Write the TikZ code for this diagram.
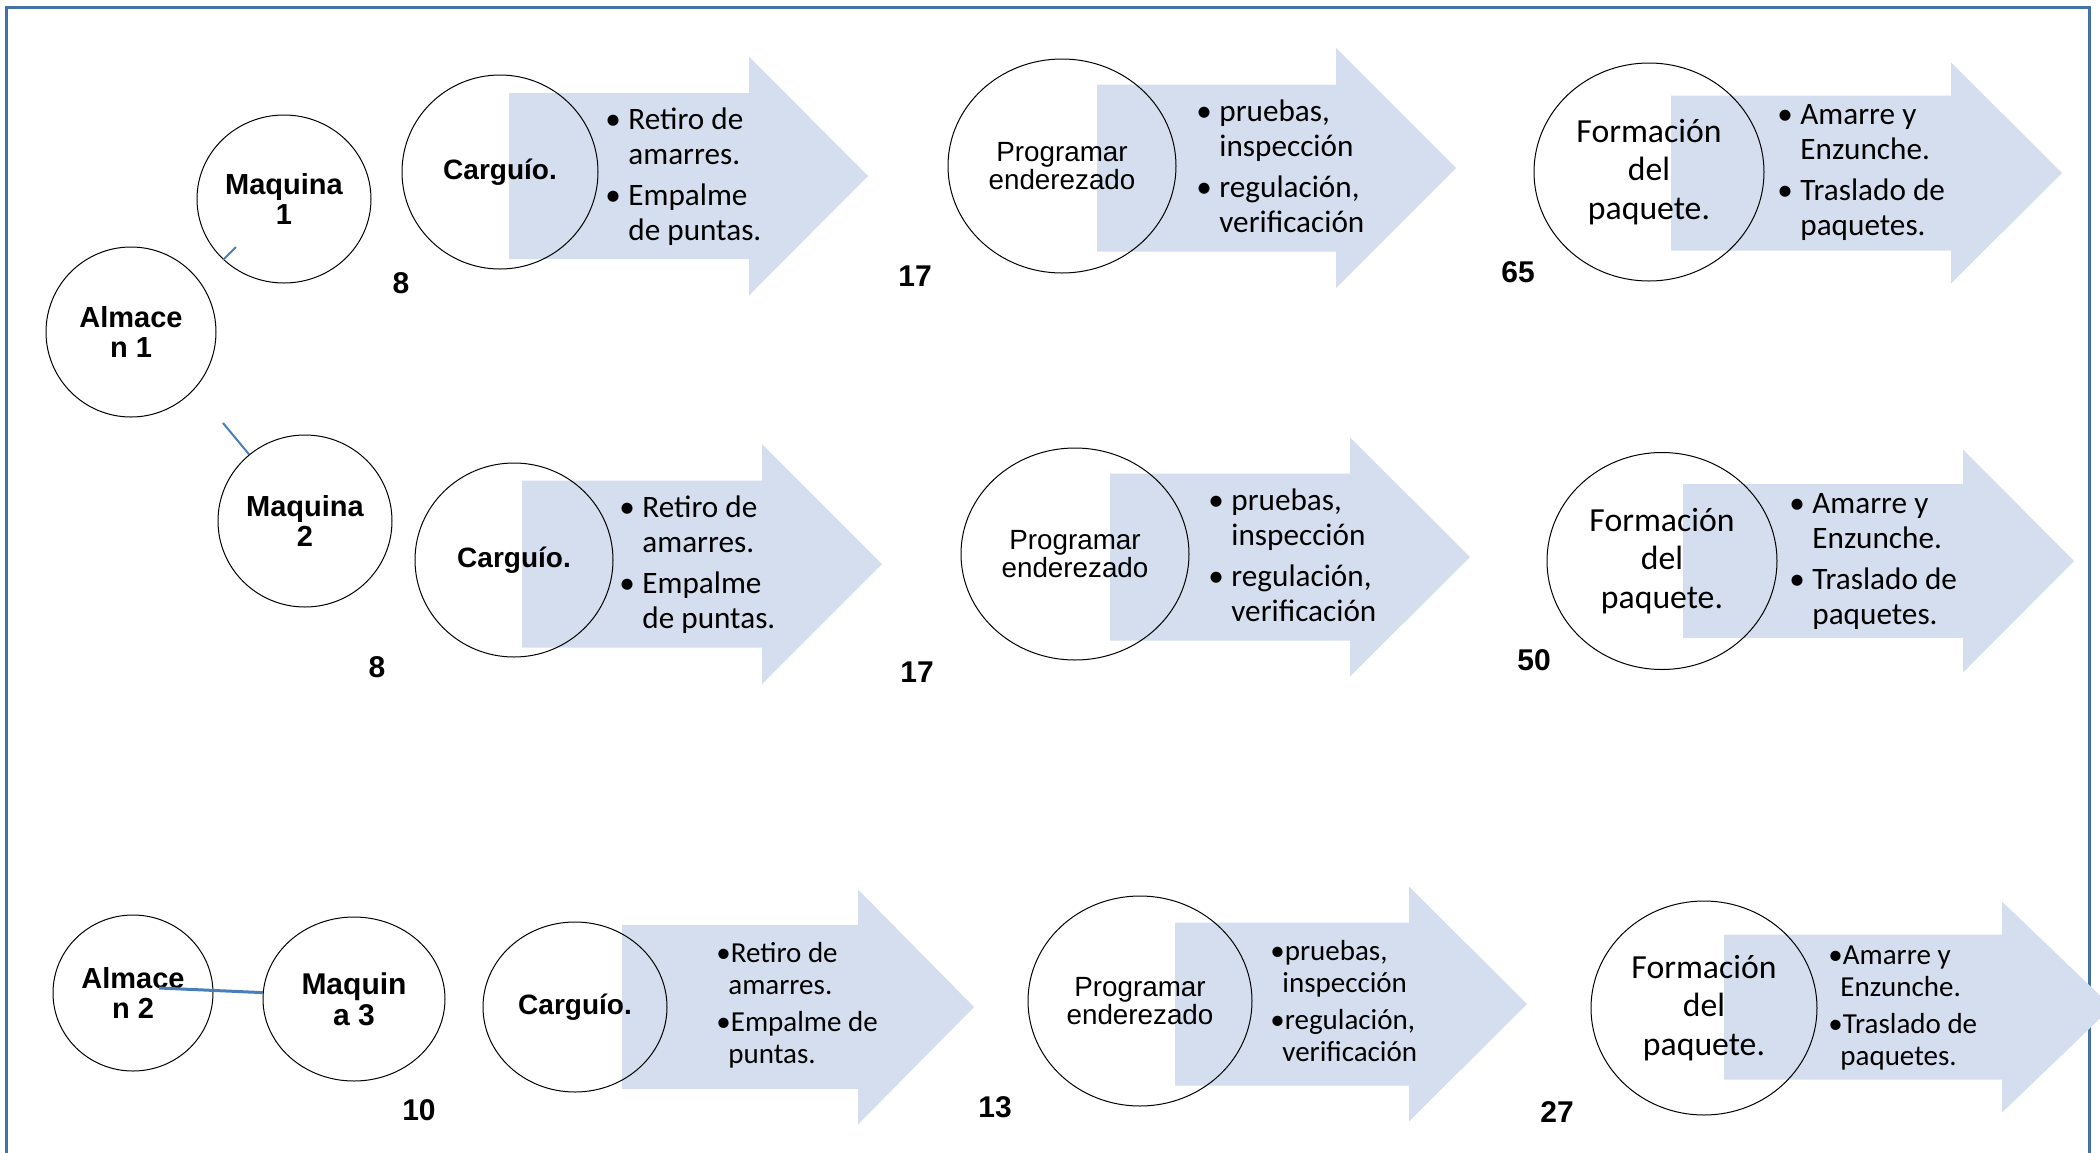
\documentclass[tikz,border=0pt]{standalone}
\usepackage{fontspec}
\setmainfont{Carlito}
\newfontfamily\arialf{Liberation Sans}
\usetikzlibrary{shapes.geometric}
\definecolor{arrowfill}{RGB}{212,222,238}
\definecolor{linkblue}{RGB}{74,126,184}
\definecolor{framecol}{RGB}{68,114,166}
% x0, xb, xt, yc, body half height, head half height
\newcommand\fatarrow[6]{%
  \fill[flowarrow] (#1,#4-#5) -- (#2,#4-#5) -- (#2,#4-#6) -- (#3,#4) -- (#2,#4+#6) -- (#2,#4+#5) -- (#1,#4+#5) -- cycle;}
\newcommand\bl{\makebox[11.5pt][l]{•}}
\begin{document}
\begin{tikzpicture}[x=0.5pt,y=-0.5pt,
  flowarrow/.style={fill=arrowfill,draw=none},
  circ/.style={ellipse,draw=black,line width=0.5pt,inner sep=0pt,align=center},
  boldlbl/.style={font=\arialf\bfseries\fontsize{14.5}{15}\selectfont},
  cargfont/.style={font=\arialf\bfseries\fontsize{14}{15}\selectfont},
  progfont/.style={font=\arialf\fontsize{13.9}{14}\selectfont},
  formfont/.style={font=\fontsize{16.85}{19.25}\selectfont},
  num/.style={font=\arialf\bfseries\fontsize{15}{16}\selectfont,inner sep=0pt},
  bulA/.style={anchor=west,inner sep=0pt,font=\fontsize{15.6}{17.5}\selectfont},
  bulB/.style={anchor=west,inner sep=0pt,font=\fontsize{14.5}{16}\selectfont},
  link/.style={draw=linkblue,line width=1pt},
  linkthick/.style={draw=linkblue,line width=1.5pt}]
\useasboundingbox (0,0) rectangle (2100,1152);
\clip (0,0) rectangle (2100,1152);

% frame
\draw[framecol,line width=1.5pt] (6.5,1170) -- (6.5,7) -- (2089,7) -- (2089,1170);

% arrows
\fatarrow{509}{749}{868}{176}{83}{119.5}
\fatarrow{1097}{1336}{1456}{168}{83.5}{120}
\fatarrow{1671}{1951}{2062}{173}{77.5}{110.5}
\fatarrow{522}{762}{882}{564}{83.5}{120}
\fatarrow{1110}{1350}{1470}{557}{83.5}{119.5}
\fatarrow{1683}{1963}{2074}{561}{77}{111.5}
\fatarrow{622}{858}{974}{1007}{82}{117.5}
\fatarrow{1175}{1409}{1527}{1004}{81.5}{117.5}
\fatarrow{1724}{2002}{2112}{1007}{72.5}{105.5}

% row 1
\node[circ,boldlbl,minimum width=85pt,minimum height=85pt] (alm1) at (131,332) {Almace\\n 1};
\node[circ,boldlbl,minimum width=87pt,minimum height=84pt] (maq1) at (284,199) {Maquina\\1};
\node[circ,cargfont,minimum width=98pt,minimum height=97pt] (carg1) at (500,172) {Carguío.};
\node[circ,progfont,minimum width=114pt,minimum height=107pt] (prog1) at (1062,166) {Programar\\enderezado};
\node[circ,formfont,minimum width=115pt,minimum height=109pt] (form1) at (1649,172) {Formación\\del\\paquete.};

\node[bulA] (t1) at (605,178) {\begin{tabular}{@{}l@{}l@{}}\bl&Retiro de\\&amarres.\\[3pt]\bl&Empalme\\&de puntas.\end{tabular}};
\node[bulA] (t2) at (1196,170) {\begin{tabular}{@{}l@{}l@{}}\bl&pruebas,\\&inspección\\[3pt]\bl&regulación,\\&verificación\end{tabular}};
\node[bulA] (t3) at (1777,173) {\begin{tabular}{@{}l@{}l@{}}\bl&Amarre y\\&Enzunche.\\[3pt]\bl&Traslado de\\&paquetes.\end{tabular}};

\node[num] (n1) at (401,283) {8};
\node[num] (n2) at (915,276) {17};
\node[num] (n3) at (1518,272) {65};

% row 2
\node[circ,boldlbl,minimum width=87pt,minimum height=86pt] (maq2) at (305,521) {Maquina\\2};
\node[circ,cargfont,minimum width=99pt,minimum height=97pt] (carg2) at (514,560) {Carguío.};
\node[circ,progfont,minimum width=114pt,minimum height=106pt] (prog2) at (1075,554) {Programar\\enderezado};
\node[circ,formfont,minimum width=115pt,minimum height=108.5pt] (form2) at (1662,561) {Formación\\del\\paquete.};

\node[bulA] (t4) at (619,566) {\begin{tabular}{@{}l@{}l@{}}\bl&Retiro de\\&amarres.\\[3pt]\bl&Empalme\\&de puntas.\end{tabular}};
\node[bulA] (t5) at (1208,559) {\begin{tabular}{@{}l@{}l@{}}\bl&pruebas,\\&inspección\\[3pt]\bl&regulación,\\&verificación\end{tabular}};
\node[bulA] (t6) at (1789,562) {\begin{tabular}{@{}l@{}l@{}}\bl&Amarre y\\&Enzunche.\\[3pt]\bl&Traslado de\\&paquetes.\end{tabular}};

\node[num] (n4) at (377,667) {8};
\node[num] (n5) at (917,672) {17};
\node[num] (n6) at (1534,660) {50};

% row 3
\node[circ,boldlbl,minimum width=80pt,minimum height=78pt] (alm2) at (133,993) {Almace\\n 2};
\node[circ,font=\arialf\bfseries\fontsize{15}{15.5}\selectfont,minimum width=91pt,minimum height=82pt] (maq3) at (354,999) {Maquin\\a 3};
\node[circ,cargfont,minimum width=92pt,minimum height=85pt] (carg3) at (575,1007) {Carguío.};
\node[circ,progfont,minimum width=112pt,minimum height=105pt] (prog3) at (1140,1001) {Programar\\enderezado};
\node[circ,formfont,minimum width=113pt,minimum height=107pt] (form3) at (1704,1008) {Formación\\del\\paquete.};

\node[bulB] (t7) at (716,1007) {\begin{tabular}{@{}l@{}}•Retiro de\\\hspace*{6pt}amarres.\\[2.5pt]•Empalme de\\\hspace*{6pt}puntas.\end{tabular}};
\node[bulB] (t8) at (1270,1005) {\begin{tabular}{@{}l@{}}•pruebas,\\\hspace*{6pt}inspección\\[2.5pt]•regulación,\\\hspace*{6pt}verificación\end{tabular}};
\node[bulB] (t9) at (1828,1009) {\begin{tabular}{@{}l@{}}•Amarre y\\\hspace*{6pt}Enzunche.\\[2.5pt]•Traslado de\\\hspace*{6pt}paquetes.\end{tabular}};

\node[num] (n7) at (419,1110) {10};
\node[num] (n8) at (995,1107) {13};
\node[num] (n9) at (1557,1112) {27};

% connectors
\coordinate (c1) at (236,247);
\coordinate (c2) at (223,423);
\coordinate (c3) at (159,988);
\draw[link] (maq1.225) -- (c1);
\draw[link] (c2) -- (maq2.130);
\draw[linkthick] (c3) -- (maq3.176);
\end{tikzpicture}
\end{document}
